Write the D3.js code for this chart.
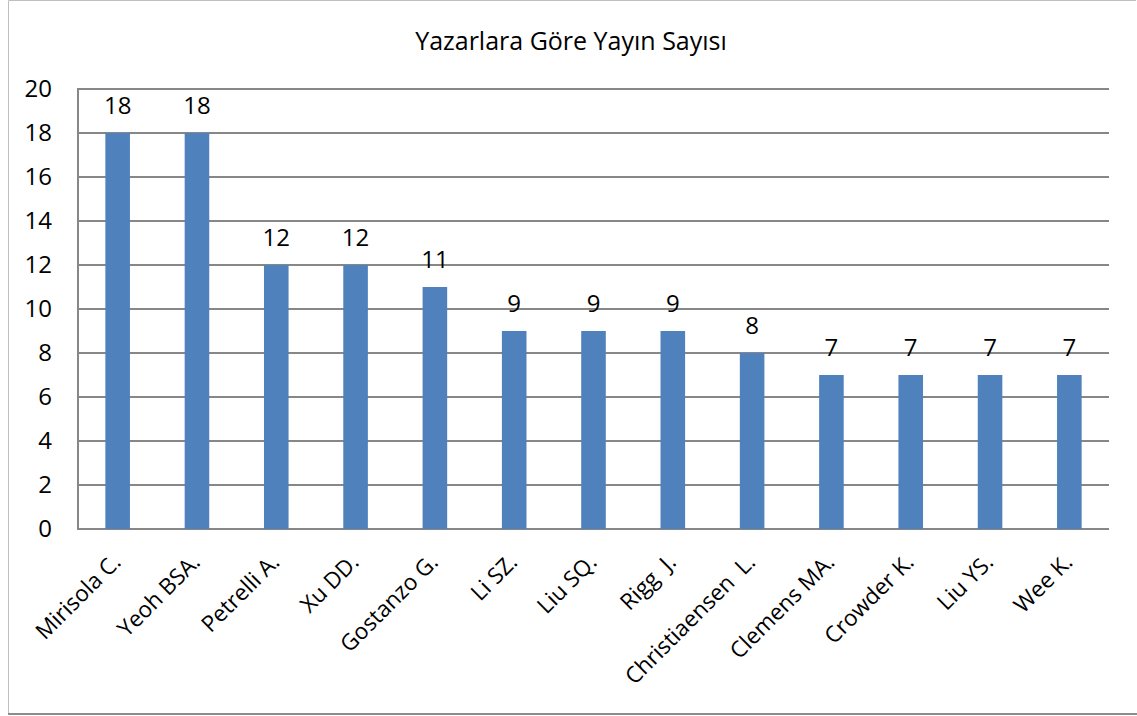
<!DOCTYPE html>
<html><head><meta charset="utf-8">
<script src="https://cdn.jsdelivr.net/npm/d3@7"></script>
<style>body{margin:0;background:#fff}svg{display:block}</style>
</head><body>
<svg id="c" width="1137" height="716"></svg>
<script>
const authors = ["Mirisola C.","Yeoh BSA.","Petrelli A.","Xu DD.","Gostanzo G.","Li SZ.","Liu SQ.","Rigg  J.","Christiaensen  L.","Clemens MA.","Crowder K.","Liu YS.","Wee K."];
const counts = [18,18,12,12,11,9,9,9,8,7,7,7,7];
const yTicks = [0,2,4,6,8,10,12,14,16,18,20];
const title = "Yazarlara Göre Yayın Sayısı";

const svg = d3.select("#c");
const font = "'Open Sans', 'Liberation Sans', sans-serif";
const m = {left:78, right:1109, top:89, bottom:529};

// outer frame
svg.append("path").attr("d","M8.5,714 L8.5,0.5 L1136,0.5").attr("fill","none").attr("stroke","#bfbfbf").attr("stroke-width",1);
svg.append("line").attr("x1",8).attr("x2",1137).attr("y1",714).attr("y2",714).attr("stroke","#8c8c8c").attr("stroke-width",2);

const x = d3.scaleBand().domain(authors).range([m.left,m.right]).paddingInner(0.69).paddingOuter(0.345);
const y = d3.scaleLinear().domain([0,20]).range([m.bottom,m.top]);

// gridlines
svg.append("g").selectAll("line").data(yTicks).join("line")
  .attr("x1",m.left).attr("x2",m.right).attr("y1",d=>y(d)).attr("y2",d=>y(d))
  .attr("stroke","#878787").attr("stroke-width",2);
svg.append("line").attr("x1",m.left).attr("x2",m.left).attr("y1",m.top-1).attr("y2",m.bottom+1).attr("stroke","#878787").attr("stroke-width",2);

// y axis labels
const yAxis = d3.axisLeft(y).tickValues(yTicks).tickSize(0).tickPadding(26);
const ga = svg.append("g").attr("transform",`translate(${m.left},0)`).call(yAxis);
ga.select(".domain").remove();
ga.selectAll("text").attr("font-family",font).attr("font-size",24).attr("fill","#000");

// bars
svg.append("g").selectAll("rect").data(counts).join("rect")
  .attr("x",(d,i)=>x(authors[i])).attr("width",x.bandwidth())
  .attr("y",d=>y(d)).attr("height",d=>y(0)-y(d)).attr("fill","#4F81BD");

// value labels
svg.append("g").selectAll("text").data(counts).join("text")
  .attr("x",(d,i)=>x(authors[i])+x.bandwidth()/2).attr("y",d=>y(d)-19)
  .attr("text-anchor","middle").attr("font-family",font).attr("font-size",24).attr("fill","#000")
  .text(d=>d);

// x labels
svg.append("g").selectAll("text").data(authors).join("text")
  .attr("transform",d=>`translate(${x(d)+x.bandwidth()/2-1},${m.bottom+29}) rotate(-45)`)
  .attr("text-anchor","end").attr("font-family",font).attr("font-size",22.5).attr("fill","#000")
  .attr("dy","0.35em").style("white-space","pre")
  .text(d=>d);

// title
svg.append("text").attr("x",571).attr("y",50).attr("text-anchor","middle")
  .attr("font-family",font).attr("font-size",25).attr("fill","#000").text(title);
</script>
</body></html>
